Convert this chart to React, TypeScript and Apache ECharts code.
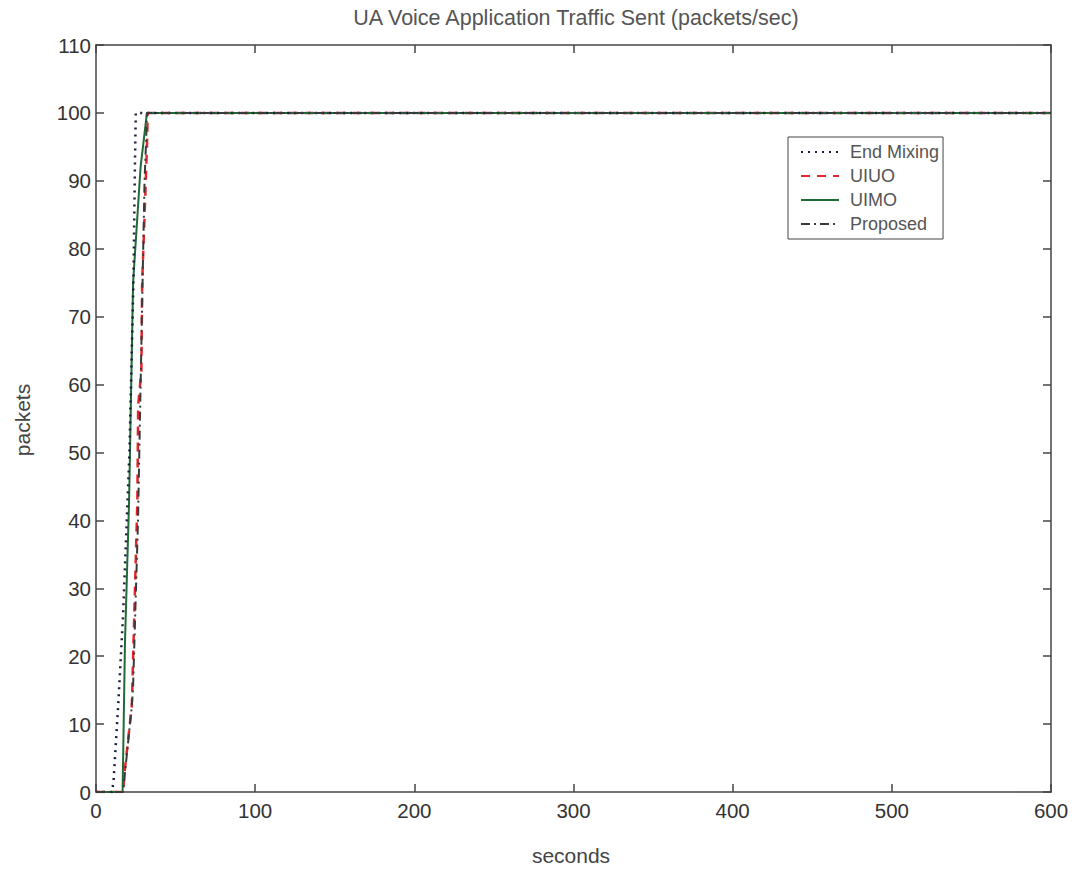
import React, { useEffect, useRef } from "react";
import * as echarts from "echarts";

const xTicks = [0, 100, 200, 300, 400, 500, 600];
const yTicks = [0, 10, 20, 30, 40, 50, 60, 70, 80, 90, 100, 110];

const endMixing: [number, number][] = [
  [0, 0], [10, 0], [11, 1.5], [14, 13], [17, 26], [19, 38], [21, 50], [23.5, 75], [24.5, 93], [25, 100], [600, 100],
];
const uiuo: [number, number][] = [
  [0, 0], [17, 0], [18, 3], [22.5, 12.7], [26, 43], [26.5, 57], [28.5, 62], [29, 75], [31, 88], [32, 95], [32.5, 100], [600, 100],
];
const uimo: [number, number][] = [
  [0, 0], [16.7, 0], [18.2, 22], [20.8, 43], [23.3, 75], [28, 92], [32, 100], [600, 100],
];
const proposed: [number, number][] = [
  [0, 0], [17, 0], [22.5, 12.7], [23.3, 15.5], [26.4, 40], [29, 72], [30.5, 90], [31.5, 96], [32, 100], [600, 100],
];

const FONT = "'Liberation Sans', Arial, Helvetica, sans-serif";

function axisLine() {
  return { show: true, onZero: false, lineStyle: { color: "#444", width: 1.5 } };
}
function tick() {
  return { show: true, inside: true, length: 8, lineStyle: { color: "#444", width: 1.5 } };
}

export default function App() {
  const ref = useRef<HTMLDivElement>(null);
  useEffect(() => {
    if (!ref.current) return;
    const chart = echarts.init(ref.current, undefined, { renderer: "svg" });
    chart.setOption({
      animation: false,
      backgroundColor: "#fff",
      grid: { left: 96, right: 25, top: 45, bottom: 77, containLabel: false },
      textStyle: { fontFamily: FONT },
      xAxis: [
        {
          type: "value", min: 0, max: 600, interval: 100, position: "bottom",
          axisLine: axisLine(), axisTick: tick(), splitLine: { show: false },
          axisLabel: { color: "#333", fontSize: 20.5, margin: 8, fontFamily: FONT,
            formatter: (v: number) => (xTicks.includes(v) ? String(v) : "") },
        },
        {
          type: "value", min: 0, max: 600, interval: 100, position: "top",
          axisLine: axisLine(), axisTick: tick(), splitLine: { show: false }, axisLabel: { show: false },
        },
      ],
      yAxis: [
        {
          type: "value", min: 0, max: 110, interval: 10, position: "left",
          axisLine: axisLine(), axisTick: tick(), splitLine: { show: false },
          axisLabel: { color: "#333", fontSize: 20.5, margin: 5, fontFamily: FONT,
            formatter: (v: number) => (yTicks.includes(v) ? String(v) : "") },
        },
        {
          type: "value", min: 0, max: 110, interval: 10, position: "right",
          axisLine: axisLine(), axisTick: tick(), splitLine: { show: false }, axisLabel: { show: false },
        },
      ],
      legend: {
        orient: "vertical", left: 788, top: 137,
        data: ["End Mixing", "UIUO", "UIMO", "Proposed"],
        itemWidth: 38, itemHeight: 18, itemGap: 6,
        padding: [6, 4, 6, 12],
        borderColor: "#444", borderWidth: 1, backgroundColor: "#fff",
        itemStyle: { opacity: 0, borderWidth: 0 },
        textStyle: { color: "#555", fontSize: 18, fontFamily: FONT, padding: [0, 0, 0, 6] },
      },
      graphic: [
        { type: "text", x: 576, y: 18, style: { text: "UA Voice Application Traffic Sent (packets/sec)", align: "center", verticalAlign: "middle", fontSize: 21.5, fill: "#555", fontFamily: FONT } },
        { type: "text", x: 571, y: 855, style: { text: "seconds", align: "center", verticalAlign: "middle", fontSize: 21, fill: "#444", fontFamily: FONT } },
        { type: "text", x: 22, y: 420, rotation: Math.PI / 2, style: { text: "packets", align: "center", verticalAlign: "middle", fontSize: 21, fill: "#444", fontFamily: FONT } },
      ],
      series: [
        {
          name: "End Mixing", type: "line", data: endMixing, symbol: "none", z: 4,
          lineStyle: { color: "#1c1c3c", width: 2.5, type: [2, 5] }, itemStyle: { color: "#1c1c3c" },
        },
        {
          name: "UIUO", type: "line", data: uiuo, symbol: "none", z: 2,
          lineStyle: { color: "#e3262b", width: 2.5, type: [9, 7] }, itemStyle: { color: "#e3262b" },
        },
        {
          name: "UIMO", type: "line", data: uimo, symbol: "none", z: 3,
          lineStyle: { color: "#1e6b35", width: 2, type: "solid" }, itemStyle: { color: "#1e6b35" },
        },
        {
          name: "Proposed", type: "line", data: proposed, symbol: "none", z: 5,
          lineStyle: { color: "#3a3a3a", width: 2, type: [9, 4, 2, 4] }, itemStyle: { color: "#3a3a3a" },
        },
      ],
    });
    return () => chart.dispose();
  }, []);
  return <div ref={ref} style={{ position: "fixed", left: 0, top: 0, width: 1076, height: 869 }} />;
}
